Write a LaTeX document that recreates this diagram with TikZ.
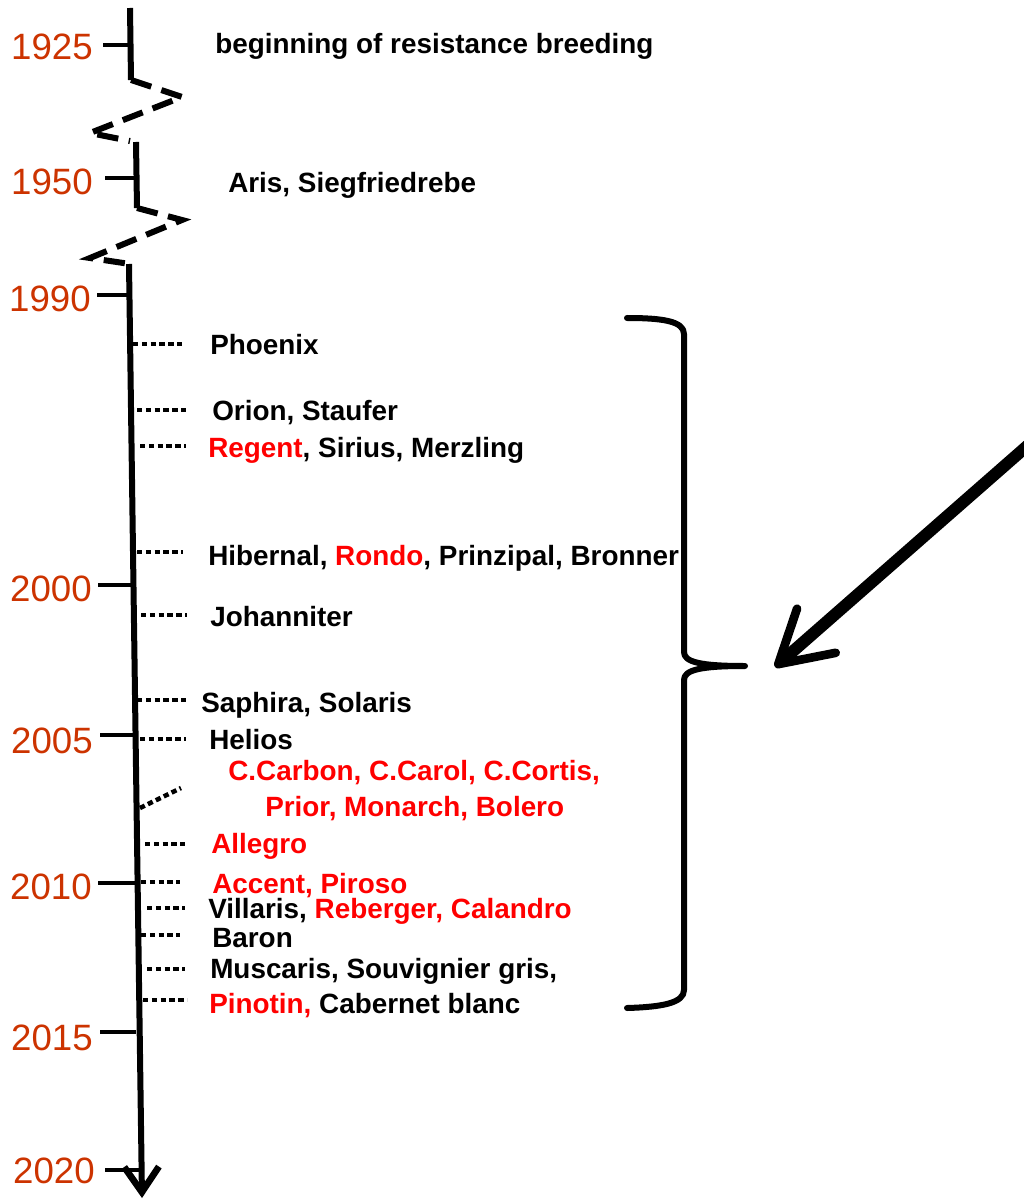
\documentclass[tikz,border=0pt]{standalone}
\usepackage{fontspec}
\setmainfont{Liberation Sans}
\usetikzlibrary{arrows.meta}
\definecolor{yearc}{RGB}{204,51,0}
\definecolor{vred}{RGB}{255,0,0}
\begin{document}
\begin{tikzpicture}[x=0.75pt,y=-0.75pt,
  year/.style={anchor=base east,inner sep=0,text=yearc,font=\fontsize{27.5}{32}\selectfont},
  lbl/.style={anchor=base west,inner sep=0,font=\fontsize{20.9}{24}\selectfont\bfseries},
  rlbl/.style={lbl,text=vred},
  axis/.style={line width=4.5pt},
  tickm/.style={line width=3.6pt},
  brk/.style={line width=4.5pt,dash pattern=on 16pt off 8pt,line join=miter},
  dots/.style={line width=3.4pt,dash pattern=on 4pt off 2.6pt},
  brace/.style={line width=4.5pt,line cap=round,line join=round},
]
\useasboundingbox (0,0) rectangle (1023,1201);

% timeline axis
\coordinate (a0) at (130,8);
\coordinate (a1) at (131,80);
\coordinate (z1) at (182,97);
\coordinate (z2) at (90,133);
\coordinate (z3) at (130,141);
\coordinate (b0) at (136,142);
\coordinate (b1) at (137,208);
\coordinate (y1) at (182,220);
\coordinate (y2) at (90,258);
\coordinate (y3) at (130,264);
\coordinate (c0) at (129,264);
\coordinate (c1) at (142,1198);
\draw[axis] (a0) -- (a1);
\draw[brk] (a1) -- (z1) -- (z2) -- (z3);
\draw[axis] (b0) -- (b1);
\draw[brk] (b1) -- (y1) -- (y2) -- (y3);
\draw[axis,-{Straight Barb[length=19pt,width=26pt,line width=5pt]}] (c0) -- (c1);

% year ticks and labels
\node[year] (t1925) at (93,60) {1925};
\draw[tickm] (103,45) -- (131,45);
\node[year] (t1950) at (93,195) {1950};
\draw[tickm] (105,178) -- (136,178);
\node[year] (t1990) at (91,312) {1990};
\draw[tickm] (97,295) -- (131,295);
\node[year] (t2000) at (92,601) {2000};
\draw[tickm] (98,585) -- (133,585);
\node[year] (t2005) at (93,753) {2005};
\draw[tickm] (100,735) -- (135,735);
\node[year] (t2010) at (92,899) {2010};
\draw[tickm] (98,883) -- (137,883);
\node[year] (t2015) at (93,1050) {2015};
\draw[tickm] (100,1032) -- (136,1032);
\node[year] (t2020) at (95,1183) {2020};
\draw[tickm] (105,1170) -- (140,1170);

% variety labels
\node[lbl] (l1925) at (215,54) {beginning of resistance breeding};
\node[lbl] (l1950) at (228,193) {Aris, Siegfriedrebe};
\node[lbl] (phoe) at (210,354) {Phoenix};
\node[lbl] (orio) at (212,420) {Orion, Staufer};
\node[lbl] (rege) at (208,457) {\textcolor{vred}{Regent}, Sirius, Merzling};
\node[lbl] (hibe) at (208,565) {Hibernal, \textcolor{vred}{Rondo}, Prinzipal, Bronner};
\node[lbl] (joha) at (210,626) {Johanniter};
\node[lbl] (saph) at (201,712) {Saphira, Solaris};
\node[lbl] (heli) at (209,749) {Helios};
\node[rlbl] (ccar) at (228,780) {C.Carbon, C.Carol, C.Cortis,};
\node[rlbl] (prio) at (265,816) {Prior, Monarch, Bolero};
\node[rlbl] (alle) at (211,853) {Allegro};
\node[rlbl] (acce) at (212,893) {Accent, Piroso};
\node[lbl] (vill) at (208,918) {Villaris, \textcolor{vred}{Reberger, Calandro}};
\node[lbl] (baro) at (212,947) {Baron};
\node[lbl] (musc) at (210,978) {Muscaris, Souvignier gris,};
\node[lbl] (pino) at (209,1013) {\textcolor{vred}{Pinotin,} Cabernet blanc};

% dotted connectors from axis to labels
\draw[dots] (133,344) -- (183,344);
\draw[dots] (137,410) -- (186,410);
\draw[dots] (140,446) -- (186,446);
\draw[dots] (137,552) -- (183,552);
\draw[dots] (141,615) -- (187,615);
\draw[dots] (137,700) -- (186,700);
\draw[dots] (140,739) -- (186,739);
\draw[dots] (140,808) -- (181,788);
\draw[dots] (145,844) -- (185,844);
\draw[dots] (141,882) -- (180,882);
\draw[dots] (147,908) -- (185,908);
\draw[dots] (141,935) -- (180,935);
\draw[dots] (147,969) -- (185,969);
\draw[dots] (143,1000) -- (187,1000);

% brace
\coordinate (br0) at (627,318);
\coordinate (brt) at (745,666);
\coordinate (br1) at (627,1008);
\draw[brace] (br0) .. controls (662,318) and (684,321) .. (684,334) -- (684,652)
  .. controls (684,662) and (700,666) .. (brt)
  .. controls (700,666) and (684,670) .. (684,680) -- (684,990)
  .. controls (684,1003) and (662,1007) .. (br1);

% big arrow
\coordinate (arS) at (1034,440);
\coordinate (arE) at (775,667);
\draw[line width=9pt,-{Straight Barb[length=38pt,width=44pt,line width=6.5pt,round]}] (arS) -- (arE);
\end{tikzpicture}
\end{document}
